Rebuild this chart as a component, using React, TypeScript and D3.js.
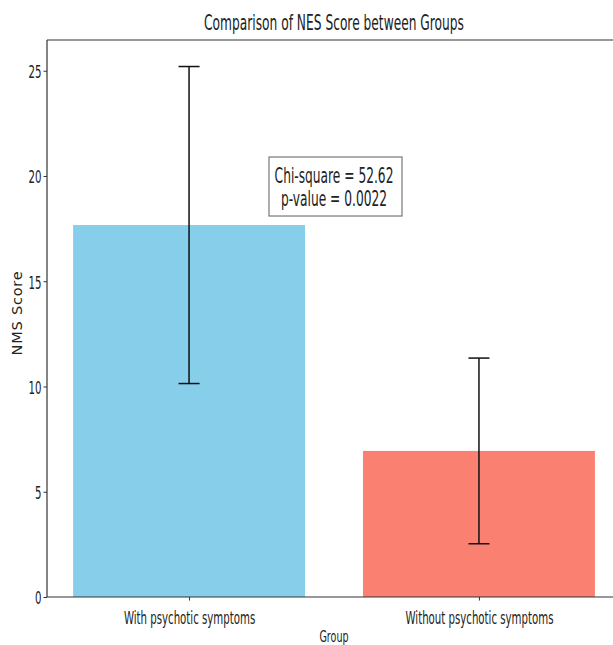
import React, { useEffect, useRef } from "react";
import * as d3 from "d3";

const groups = ["With psychotic symptoms", "Without psychotic symptoms"];
const means = [17.67, 6.94];
const errors = [7.53, 4.41];
const colors = ["#87CEEB", "#FA8072"];
const yTicks = [0, 5, 10, 15, 20, 25];
const statLines = ["Chi-square = 52.62", "p-value = 0.0022"];

const FONT = "DejaVu Sans, sans-serif";
const SQUEEZE = 0.6;

function App() {
  const ref = useRef<SVGSVGElement | null>(null);

  useEffect(() => {
    drawChart();
  }, []);

  function drawChart() {
    const width = 613;
    const height = 645;
    const left = 47;
    const right = 621;
    const top = 40;
    const bottom = 597;

    const svg = d3.select(ref.current);
    svg.selectAll("*").remove();

    const yMax = d3.max(means.map((m, i) => m + errors[i])) * 1.05;
    const y = d3.scaleLinear().domain([0, yMax]).range([bottom, top]);
    const x = d3
      .scaleLinear()
      .domain([-0.49, groups.length - 1 + 0.49])
      .range([left, right]);
    const barW = x(0.4) - x(-0.4);

    svg.append("rect").attr("width", width).attr("height", height).attr("fill", "#fff");

    // bars
    svg
      .selectAll(".bar")
      .data(means)
      .enter()
      .append("rect")
      .attr("x", (_, i) => x(i) - barW / 2)
      .attr("y", (d) => y(d))
      .attr("width", barW)
      .attr("height", (d) => y(0) - y(d))
      .attr("fill", (_, i) => colors[i]);

    // error bars
    const capHalf = 10.5;
    const eb = svg.selectAll(".err").data(means).enter().append("g");
    eb.append("line")
      .attr("x1", (_, i) => x(i))
      .attr("x2", (_, i) => x(i))
      .attr("y1", (d, i) => y(d - errors[i]))
      .attr("y2", (d, i) => y(d + errors[i]));
    eb.append("line")
      .attr("x1", (_, i) => x(i) - capHalf)
      .attr("x2", (_, i) => x(i) + capHalf)
      .attr("y1", (d, i) => y(d + errors[i]))
      .attr("y2", (d, i) => y(d + errors[i]));
    eb.append("line")
      .attr("x1", (_, i) => x(i) - capHalf)
      .attr("x2", (_, i) => x(i) + capHalf)
      .attr("y1", (d, i) => y(d - errors[i]))
      .attr("y2", (d, i) => y(d - errors[i]));
    eb.selectAll("line").attr("stroke", "#111").attr("stroke-width", 1.5);

    // spines
    const spine = "#333";
    svg.append("line").attr("x1", left).attr("x2", left).attr("y1", top).attr("y2", bottom)
      .attr("stroke", spine).attr("stroke-width", 1.2);
    svg.append("line").attr("x1", left).attr("x2", right).attr("y1", top).attr("y2", top)
      .attr("stroke", spine).attr("stroke-width", 1.2);
    svg.append("line").attr("x1", left).attr("x2", right).attr("y1", bottom).attr("y2", bottom)
      .attr("stroke", spine).attr("stroke-width", 1.2);

    // y axis
    const yAxis = svg
      .append("g")
      .attr("transform", `translate(${left},0)`)
      .call(d3.axisLeft(y).tickValues(yTicks).tickSize(3.5).tickSizeOuter(0));
    yAxis.select(".domain").remove();
    yAxis.selectAll("line").attr("stroke", spine);
    yAxis
      .selectAll("text")
      .attr("x", null)
      .attr("dy", "0.4em")
      .attr("transform", `translate(-5.5,0) scale(${SQUEEZE},1)`)
      .attr("font-family", FONT)
      .attr("font-size", 17)
      .attr("fill", "#222");

    // x axis
    const xAxis = svg
      .append("g")
      .attr("transform", `translate(0,${bottom})`)
      .call(
        d3
          .axisBottom(x)
          .tickValues(groups.map((_, i) => i))
          .tickFormat((d) => groups[d as number])
          .tickSize(3.5)
          .tickSizeOuter(0)
      );
    xAxis.select(".domain").remove();
    xAxis.selectAll("line").attr("stroke", spine);
    xAxis
      .selectAll("text")
      .attr("y", null)
      .attr("dy", null)
      .attr("transform", `translate(0,26.5) scale(${SQUEEZE},1)`)
      .attr("font-family", FONT)
      .attr("font-size", 17)
      .attr("fill", "#222");

    // title
    svg
      .append("text")
      .attr("transform", `translate(${(left + right) / 2},30) scale(${SQUEEZE},1)`)
      .attr("text-anchor", "middle")
      .attr("font-family", FONT)
      .attr("font-size", 20.4)
      .attr("fill", "#222")
      .text("Comparison of NES Score between Groups");

    // axis labels
    svg
      .append("text")
      .attr("transform", `translate(${(left + right) / 2},642) scale(${SQUEEZE},1)`)
      .attr("text-anchor", "middle")
      .attr("font-family", FONT)
      .attr("font-size", 16)
      .attr("fill", "#222")
      .text("Group");

    svg
      .append("text")
      .attr("transform", `translate(22,313) rotate(-90)`)
      .attr("text-anchor", "middle")
      .attr("font-family", FONT)
      .attr("font-size", 14.5)
      .attr("letter-spacing", 0.8)
      .attr("fill", "#222")
      .text("NMS Score");

    // stats box
    const cx = (left + right) / 2;
    const cy = y(19.5);
    const lineH = 23;
    const boxW = 133;
    const boxH = 59;
    svg
      .append("rect")
      .attr("x", cx - boxW / 2 + 1.5)
      .attr("y", cy - boxH / 2)
      .attr("width", boxW)
      .attr("height", boxH)
      .attr("fill", "#fff")
      .attr("stroke", "#777")
      .attr("stroke-width", 1.2);
    svg
      .selectAll(".stat")
      .data(statLines)
      .enter()
      .append("text")
      .attr(
        "transform",
        (_, i) =>
          `translate(${cx},${cy - lineH / 2 + i * lineH + 7.5}) scale(${SQUEEZE},1)`
      )
      .attr("text-anchor", "middle")
      .attr("font-family", FONT)
      .attr("font-size", 20.4)
      .attr("fill", "#222")
      .text((d) => d);
  }

  return (
    <svg
      ref={ref}
      width={613}
      height={645}
      style={{ position: "absolute", left: 0, top: 0, display: "block" }}
    ></svg>
  );
}

export default App;
